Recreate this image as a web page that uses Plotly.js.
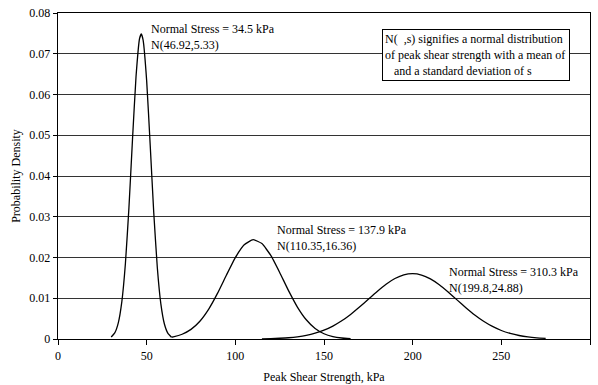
<!DOCTYPE html>
<html>
<head>
<meta charset="utf-8">
<script src="https://cdn.plot.ly/plotly-3.0.1.min.js"></script>
<style>html,body{margin:0;padding:0;background:#fff;}#chart{width:598px;height:385px;}</style>
</head>
<body>
<div id="chart"></div>
<script>
// Curve 1: Normal Stress = 34.5 kPa, N(46.92,5.33)
const strength1 = [30, 32, 34, 36, 38, 40, 42, 44, 46, 47, 48, 50, 52, 54, 56, 58, 60, 62, 64];
const density1 = [0.00048, 0.00149, 0.00397, 0.00918, 0.01845, 0.03222, 0.04889, 0.06442, 0.07374, 0.07485, 0.07333, 0.06334, 0.04753, 0.03098, 0.01754, 0.00862, 0.00369, 0.00137, 0.00044];
// Curve 2: Normal Stress = 137.9 kPa, N(110.35,16.36)
const strength2 = [64, 65, 70, 75, 80, 85, 90, 95, 100, 105, 110, 115, 120, 125, 130, 135, 140, 145, 150, 155, 160, 165];
const density2 = [0.00044, 0.00052, 0.00117, 0.00236, 0.00436, 0.00734, 0.01125, 0.01570, 0.01997, 0.02312, 0.02439, 0.02342, 0.02050, 0.01633, 0.01186, 0.00784, 0.00472, 0.00259, 0.00129, 0.00059, 0.00024, 0.00009];
// Curve 3: Normal Stress = 310.3 kPa, N(199.8,24.88)
const strength3 = [115, 120, 125, 130, 135, 140, 145, 150, 155, 160, 165, 170, 175, 180, 185, 190, 195, 200, 205, 210, 215, 220, 225, 230, 235, 240, 245, 250, 255, 260, 265, 270, 275];
const density3 = [0.00005, 0.00009, 0.00018, 0.00031, 0.00054, 0.00089, 0.00142, 0.00216, 0.00317, 0.00446, 0.00603, 0.00783, 0.00976, 0.01168, 0.01344, 0.01484, 0.01574, 0.01603, 0.01569, 0.01474, 0.01331, 0.01153, 0.00960, 0.00768, 0.00589, 0.00435, 0.00308, 0.00209, 0.00137, 0.00086, 0.00052, 0.00030, 0.00017];

// Axis tick labels
const yTickVals = [0, 0.01, 0.02, 0.03, 0.04, 0.05, 0.06, 0.07, 0.08];
const yTickText = ["0", "0.01", "0.02", "0.03", "0.04", "0.05", "0.06", "0.07", "0.08"];
const xTickVals = [0, 50, 100, 150, 200, 250, 300];
const xTickText = ["0", "50", "100", "150", "200", "250", "300"];

const labels = ["Normal Stress = 34.5 kPa<br>N(46.92,5.33)",
                "Normal Stress = 137.9 kPa<br>N(110.35,16.36)",
                "Normal Stress = 310.3 kPa<br>N(199.8,24.88)"];
const labelX = [51.5, 122.3, 219.3];
const labelY = [0.0783, 0.0290, 0.0186];
const noteText = "N(\u00a0\u00a0,s) signifies a normal distribution<br>of peak shear strength with a mean of<br>\u00a0\u00a0\u00a0and a standard deviation of s";

const font = {family: "Times New Roman, Liberation Serif, Times, serif", size: 12, color: "#000"};
const line = {color: "#000", width: 1.3, shape: "spline", smoothing: 0.4};

const traces = [
  {x: strength1, y: density1, mode: "lines", line: line, hoverinfo: "skip"},
  {x: strength2, y: density2, mode: "lines", line: line, hoverinfo: "skip"},
  {x: strength3, y: density3, mode: "lines", line: line, hoverinfo: "skip"}
];

const annotations = labels.map((t, i) => ({
  x: labelX[i], y: labelY[i], xref: "x", yref: "y", text: t, showarrow: false,
  xanchor: "left", yanchor: "top", align: "left", font: font
}));
annotations.push({
  x: 0.609, y: 0.951, xref: "paper", yref: "paper", text: noteText, showarrow: false,
  xanchor: "left", yanchor: "top", align: "left", font: font, width: 182, height: 46,
  bgcolor: "#fff", bordercolor: "#000", borderwidth: 1, borderpad: 2
});

const layout = {
  width: 598, height: 385,
  margin: {l: 58, r: 8, t: 13, b: 46},
  paper_bgcolor: "#fff", plot_bgcolor: "#fff",
  showlegend: false,
  font: font,
  xaxis: {
    range: [0, 300], tickmode: "array", tickvals: xTickVals, ticktext: xTickText,
    showgrid: false, zeroline: false,
    showline: true, linecolor: "#000", linewidth: 1.3, mirror: true,
    ticks: "outside", ticklen: 5, tickcolor: "#000", tickfont: font,
    title: {text: "Peak Shear Strength, kPa", font: font, standoff: 11}
  },
  yaxis: {
    range: [0, 0.08], tickmode: "array", tickvals: yTickVals, ticktext: yTickText,
    showgrid: true, gridcolor: "#333", gridwidth: 1,
    zeroline: false, showline: true, linecolor: "#000", linewidth: 1.3, mirror: true,
    ticks: "outside", ticklen: 4, tickcolor: "#000", tickfont: font,
    title: {text: "Probability Density", font: font, standoff: 6}
  },
  annotations: annotations
};

Plotly.newPlot("chart", traces, layout, {staticPlot: true, displayModeBar: false});
</script>
</body>
</html>
